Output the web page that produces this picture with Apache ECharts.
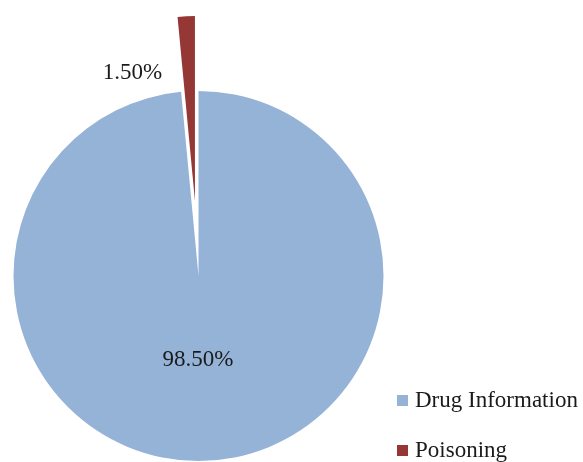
<!DOCTYPE html>
<html>
<head>
<meta charset="utf-8">
<script src="https://cdn.jsdelivr.net/npm/echarts@6/dist/echarts.min.js"></script>
<style>
html,body{margin:0;padding:0;background:#fff;}
#chart{width:583px;height:462px;}
</style>
</head>
<body>
<div id="chart"></div>
<script>
const categories = ['Drug Information', 'Poisoning'];
const values = [98.5, 1.5];
const labelTexts = ['98.50%', '1.50%'];
const colors = ['#95B3D7', '#953735'];

const chart = echarts.init(document.getElementById('chart'), null, {renderer: 'canvas'});
const labelShift = [[-5, -11], [-58, -33]];
const option = {
  animation: false,
  backgroundColor: '#ffffff',
  legend: {
    orient: 'vertical',
    left: 397,
    top: 389,
    height: 200,
    padding: 0,
    itemWidth: 11,
    itemHeight: 11,
    itemGap: 27,
    icon: 'rect',
    selectedMode: false,
    textStyle: {fontFamily: 'Liberation Serif', fontSize: 23, color: '#1a1a1a', padding: [0, 0, 0, 2]},
    data: categories
  },
  series: [{
    type: 'pie',
    center: [198.5, 276],
    radius: 185,
    startAngle: 90,
    clockwise: true,
    selectedMode: 'multiple',
    selectedOffset: 75,
    emphasis: {disabled: true},
    label: {
      show: true,
      position: 'inside',
      fontFamily: 'Liberation Serif',
      fontSize: 23,
      color: '#1a1a1a',
      formatter: p => labelTexts[p.dataIndex]
    },
    labelLine: {show: false},
    labelLayout: function (params) {
      const s = labelShift[params.dataIndex];
      return {dx: s[0], dy: s[1]};
    },
    itemStyle: {borderWidth: 0},
    data: categories.map((c, i) => ({
      name: c,
      value: values[i],
      selected: i === 1,
      itemStyle: {color: colors[i]}
    }))
  }]
};
chart.setOption(option);
</script>
</body>
</html>
